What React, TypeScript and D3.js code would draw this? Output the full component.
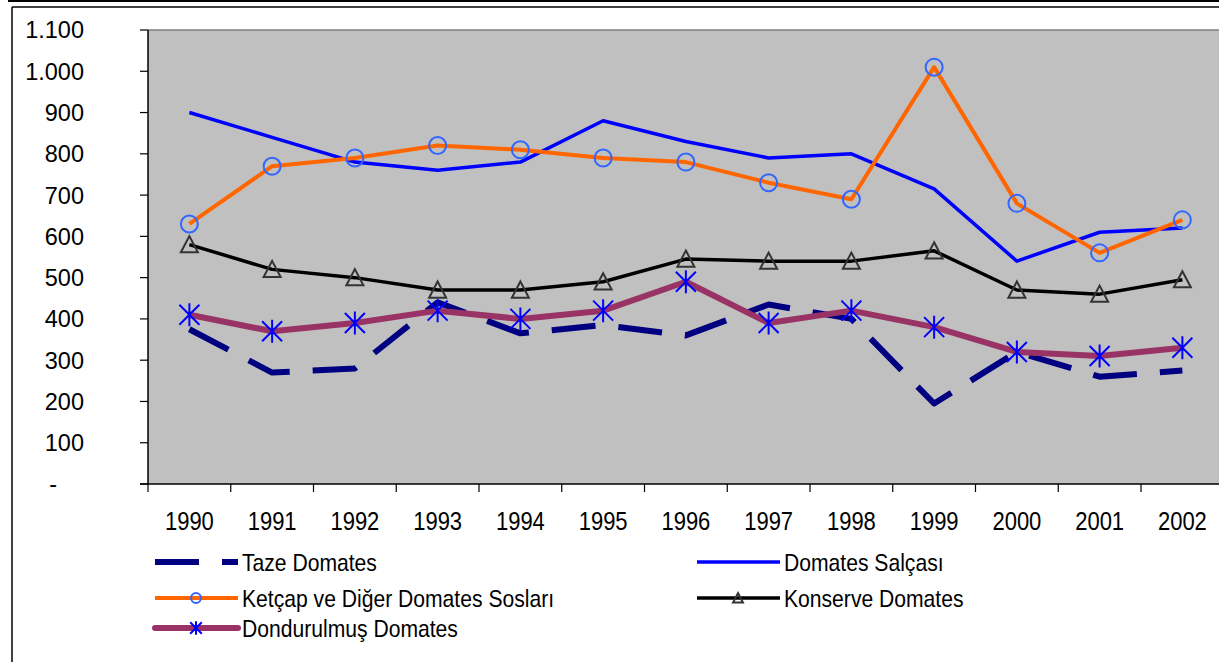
import React from "react";
import { scaleBand, scaleLinear, line } from "d3";

const years = ["1990", "1991", "1992", "1993", "1994", "1995", "1996", "1997", "1998", "1999", "2000", "2001", "2002"];
const tazeDomates = [375, 270, 280, 440, 365, 385, 360, 435, 400, 195, 320, 260, 275];
const domatesSalcasi = [900, 840, 780, 760, 780, 880, 830, 790, 800, 715, 540, 610, 620];
const ketcapSoslar = [630, 770, 790, 820, 810, 790, 780, 730, 690, 1010, 680, 560, 640];
const konserveDomates = [580, 520, 500, 470, 470, 490, 545, 540, 540, 565, 470, 460, 495];
const dondurulmusDomates = [410, 370, 390, 420, 400, 420, 490, 390, 420, 380, 320, 310, 330];
const yTicks = [0, 100, 200, 300, 400, 500, 600, 700, 800, 900, 1000, 1100];
const yTickLabels = ["-", "100", "200", "300", "400", "500", "600", "700", "800", "900", "1.000", "1.100"];

const W = 1219;
const H = 662;
const left = 148;
const top = 30;
const bottom = 484;
const band = 82.75;
const font = "'Liberation Sans', Arial, sans-serif";
const squeeze = 0.88;

type Marker = "none" | "circle" | "triangle" | "star";

const series = [
  { name: "Taze Domates", values: tazeDomates, color: "#000080", width: 6, dash: "44 23", marker: "none" as Marker },
  { name: "Domates Salçası", values: domatesSalcasi, color: "#0000FF", width: 3.5, dash: undefined, marker: "none" as Marker },
  { name: "Ketçap ve Diğer Domates Sosları", values: ketcapSoslar, color: "#FF6600", width: 4, dash: undefined, marker: "circle" as Marker },
  { name: "Konserve Domates", values: konserveDomates, color: "#000000", width: 3.5, dash: undefined, marker: "triangle" as Marker },
  { name: "Dondurulmuş Domates", values: dondurulmusDomates, color: "#993366", width: 6, dash: undefined, marker: "star" as Marker },
];

// legend slots: column x, row y
const legendPos = [
  { x: 155, y: 562 },
  { x: 697, y: 562 },
  { x: 155, y: 598 },
  { x: 697, y: 598 },
  { x: 155, y: 628 },
];

function MarkerShape({ kind, x, y, scale = 1 }: { kind: Marker; x: number; y: number; scale?: number }) {
  if (kind === "circle") {
    return <circle cx={x} cy={y} r={8.5 * scale} fill="none" stroke="#3366FF" strokeWidth={2} />;
  }
  if (kind === "triangle") {
    const s = 8.5 * scale;
    return (
      <path
        d={`M${x},${y - s} L${x + s},${y + s * 0.9} L${x - s},${y + s * 0.9} Z`}
        fill="none"
        stroke="#333333"
        strokeWidth={2}
      />
    );
  }
  if (kind === "star") {
    const s = 10 * scale;
    const v = 11.5 * scale;
    return (
      <path
        d={`M${x},${y - v} V${y + v} M${x - s},${y - s} L${x + s},${y + s} M${x + s},${y - s} L${x - s},${y + s}`}
        stroke="#0000FF"
        strokeWidth={2}
        fill="none"
      />
    );
  }
  return null;
}

export default function App() {
  const x = scaleBand().domain(years).range([left, left + band * years.length]);
  const y = scaleLinear().domain([0, 1100]).range([bottom, top]);
  const cx = (yr: string) => (x(yr) ?? 0) + x.bandwidth() / 2;

  const path = line<number>()
    .x((_, i) => cx(years[i]))
    .y((d) => y(d));

  const boundaries = years.map((_, i) => left + i * x.step()).concat([left + years.length * x.step()]);

  return (
    <div style={{ position: "absolute", left: 0, top: 0 }}>
      <svg width={W} height={H} style={{ display: "block", fontFamily: font }}>
        <rect width={W} height={H} fill="#fff" />
        {/* outer frame */}
        <line x1={8} x2={W} y1={1} y2={1} stroke="#000" strokeWidth={2} />
        <line x1={12} x2={W} y1={7} y2={7} stroke="#000" strokeWidth={1.5} />
        <line x1={12} x2={12} y1={7} y2={H} stroke="#000" strokeWidth={1.5} />

        {/* plot area */}
        <rect x={left} y={top} width={W - left + 10} height={bottom - top} fill="#C0C0C0" />
        <line x1={left} x2={W} y1={top} y2={top} stroke="#808080" strokeWidth={1.5} />

        {/* y axis */}
        <line x1={left} x2={left} y1={top} y2={bottom} stroke="#000" strokeWidth={1.5} />
        {yTicks.map((t, i) => (
          <g key={t}>
            <line x1={left - 8} x2={left} y1={y(t)} y2={y(t)} stroke="#000" strokeWidth={1.2} />
            <text
              x={84}
              dx={t === 0 ? -27 : 0}
              y={y(t)}
              dy="0.36em"
              textAnchor="end"
              fontSize={23.5}
              fill="#000"
            >
              {yTickLabels[i]}
            </text>
          </g>
        ))}

        {/* x axis */}
        <line x1={left - 8} x2={W} y1={bottom} y2={bottom} stroke="#000" strokeWidth={1.5} />
        {boundaries.map((bx, i) => (
          <line key={i} x1={bx} x2={bx} y1={bottom} y2={bottom + 8} stroke="#000" strokeWidth={1.2} />
        ))}
        {years.map((yr) => (
          <text
            key={yr}
            transform={`translate(${cx(yr)},530) scale(${squeeze},1)`}
            textAnchor="middle"
            fontSize={25}
            fill="#000"
          >
            {yr}
          </text>
        ))}

        {/* series */}
        {series.map((s) => (
          <g key={s.name}>
            <path
              d={path(s.values) ?? ""}
              fill="none"
              stroke={s.color}
              strokeWidth={s.width}
              strokeDasharray={s.dash}
              strokeLinejoin="round"
            />
            {s.values.map((v, i) => (
              <MarkerShape key={i} kind={s.marker} x={cx(years[i])} y={y(v)} />
            ))}
          </g>
        ))}

        {/* legend */}
        {series.map((s, i) => {
          const p = legendPos[i];
          return (
            <g key={s.name}>
              <line
                x1={p.x}
                x2={p.x + 83}
                y1={p.y}
                y2={p.y}
                stroke={s.color}
                strokeWidth={s.width}
                strokeDasharray={s.dash}
                strokeLinecap={s.marker === "star" ? "round" : "butt"}
              />
              <MarkerShape kind={s.marker} x={p.x + 41} y={p.y} scale={0.58} />
              <text
                transform={`translate(${p.x + 87},${p.y + 9}) scale(${squeeze},1)`}
                fontSize={24}
                fill="#000"
              >
                {s.name}
              </text>
            </g>
          );
        })}
      </svg>
    </div>
  );
}
